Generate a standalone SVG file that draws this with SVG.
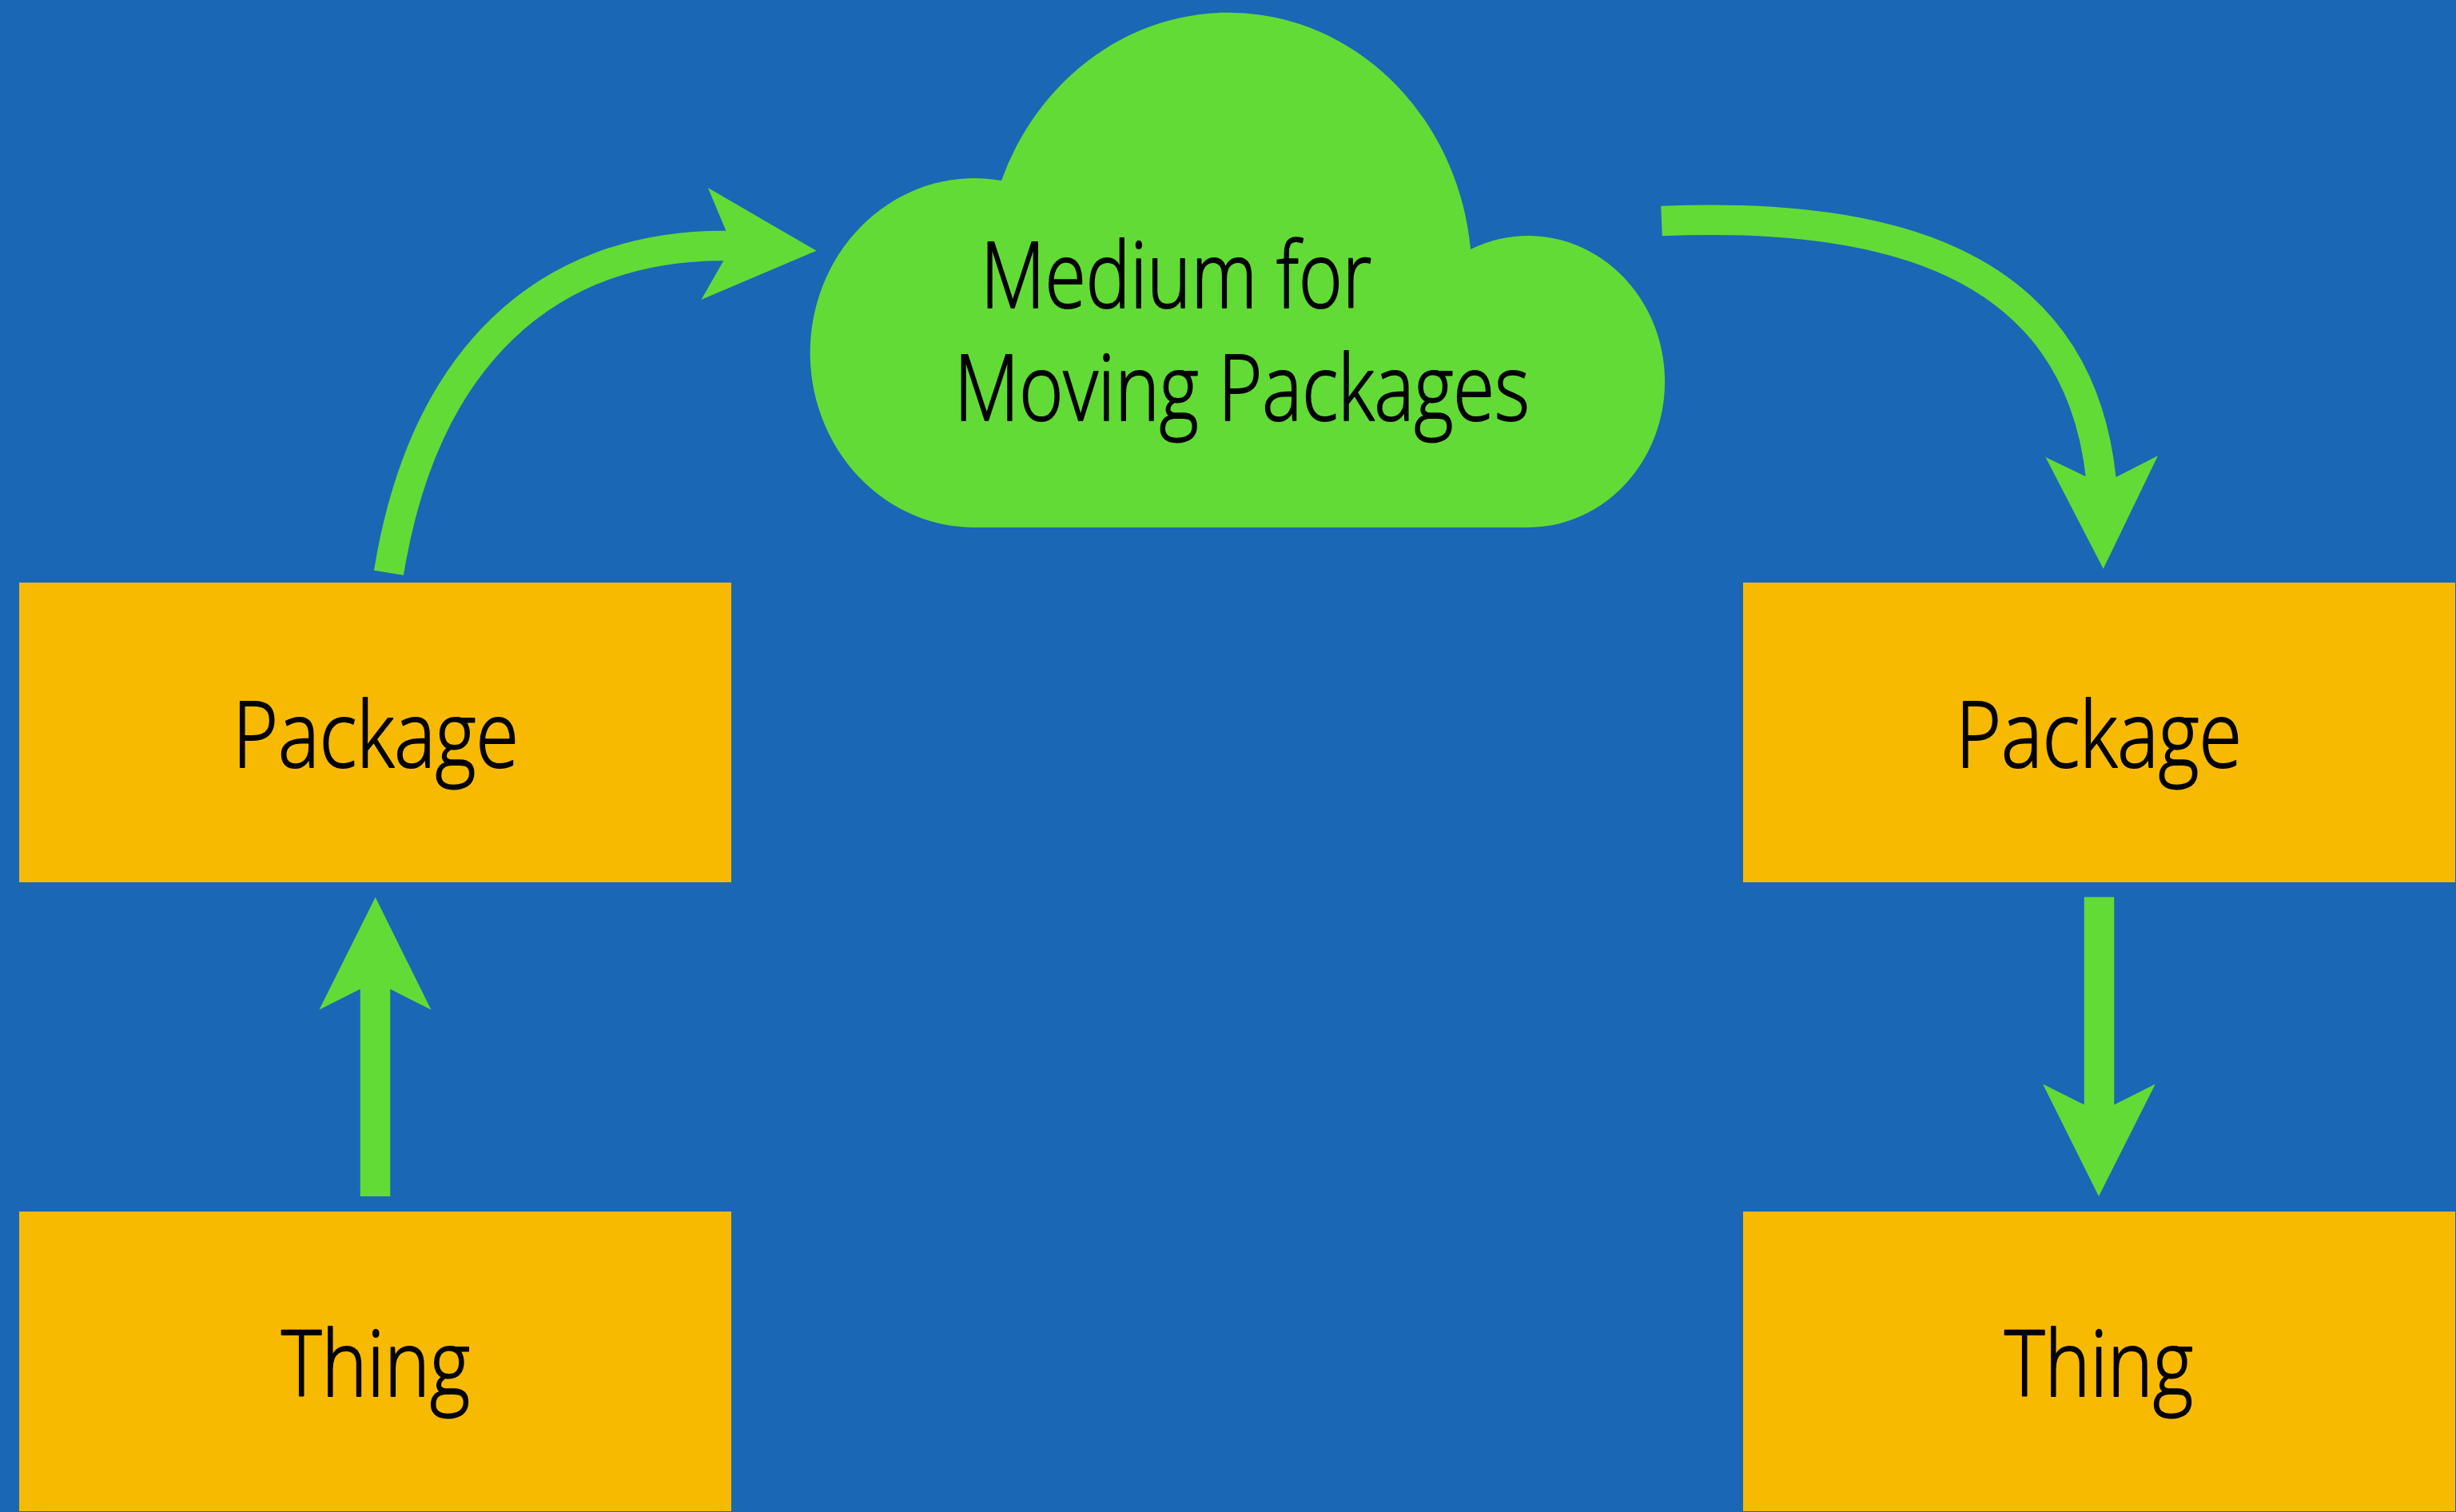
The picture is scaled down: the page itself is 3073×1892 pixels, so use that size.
<svg xmlns="http://www.w3.org/2000/svg" width="3073" height="1892" viewBox="0 0 3073 1892">
<style>
.box{fill:#F8BA00}
.cloud{fill:#62DB36}
.shaft{fill:none;stroke:#62DB36;stroke-width:37.5}
.head{fill:#62DB36}
text{font-family:"Open Sans","Noto Sans",sans-serif;font-weight:300;font-size:114px;fill:#000;stroke:#000;stroke-width:2;stroke-linejoin:round}
</style>
<rect width="3073" height="1892" fill="#1A67B5"/>
<g id="connectors">
<g id="thing-to-package-left"><path class="shaft" d="M469.5,1497V1225"/><polygon class="head" points="469.7,1122.8 539.4,1263.5 488,1237.6 451,1237.6 399.4,1263.5"/></g>
<g id="package-to-medium"><path class="shaft" d="M486.4,716.8C530,450 680,307 907,307.5L950,308"/><polygon class="head" points="1021.7,313.8 877.4,375 905.3,326.3 908.4,288.8 885.8,235"/></g>
<g id="medium-to-package"><path class="shaft" d="M2079,276.6C2350,265 2600,320 2629,600L2630,640"/><polygon class="head" points="2631.7,711.7 2559.4,572 2609.8,596.3 2648.2,596.7 2700,570.3"/></g>
<g id="package-to-thing-right"><path class="shaft" d="M2626.5,1122.5V1395"/><polygon class="head" points="2626,1497 2556,1356.5 2608,1382.4 2645,1382.4 2696.8,1356.5"/></g>
</g>
<g id="medium"><path class="cloud" d="M1217,660A205.5,218.5 0 1 1 1253,226A304.5,329 0 0 1 1840,312A171,182.5 0 1 1 1912,660Z"/>
<text x="1227" y="385" textLength="489" lengthAdjust="spacingAndGlyphs">Medium for</text>
<text x="1194" y="526" textLength="720" lengthAdjust="spacingAndGlyphs">Moving Packages</text></g>
<g id="package-left"><rect class="box" x="24" y="729" width="891" height="375"/><text x="291" y="959.5" textLength="358" lengthAdjust="spacingAndGlyphs">Package</text></g>
<g id="thing-left"><rect class="box" x="24" y="1516" width="891" height="375"/><text x="352" y="1746.5" textLength="236" lengthAdjust="spacingAndGlyphs">Thing</text></g>
<g id="package-right"><rect class="box" x="2181" y="729" width="891" height="375"/><text x="2447" y="959.5" textLength="358" lengthAdjust="spacingAndGlyphs">Package</text></g>
<g id="thing-right"><rect class="box" x="2181" y="1516" width="891" height="375"/><text x="2508" y="1746.5" textLength="236" lengthAdjust="spacingAndGlyphs">Thing</text></g>
</svg>
